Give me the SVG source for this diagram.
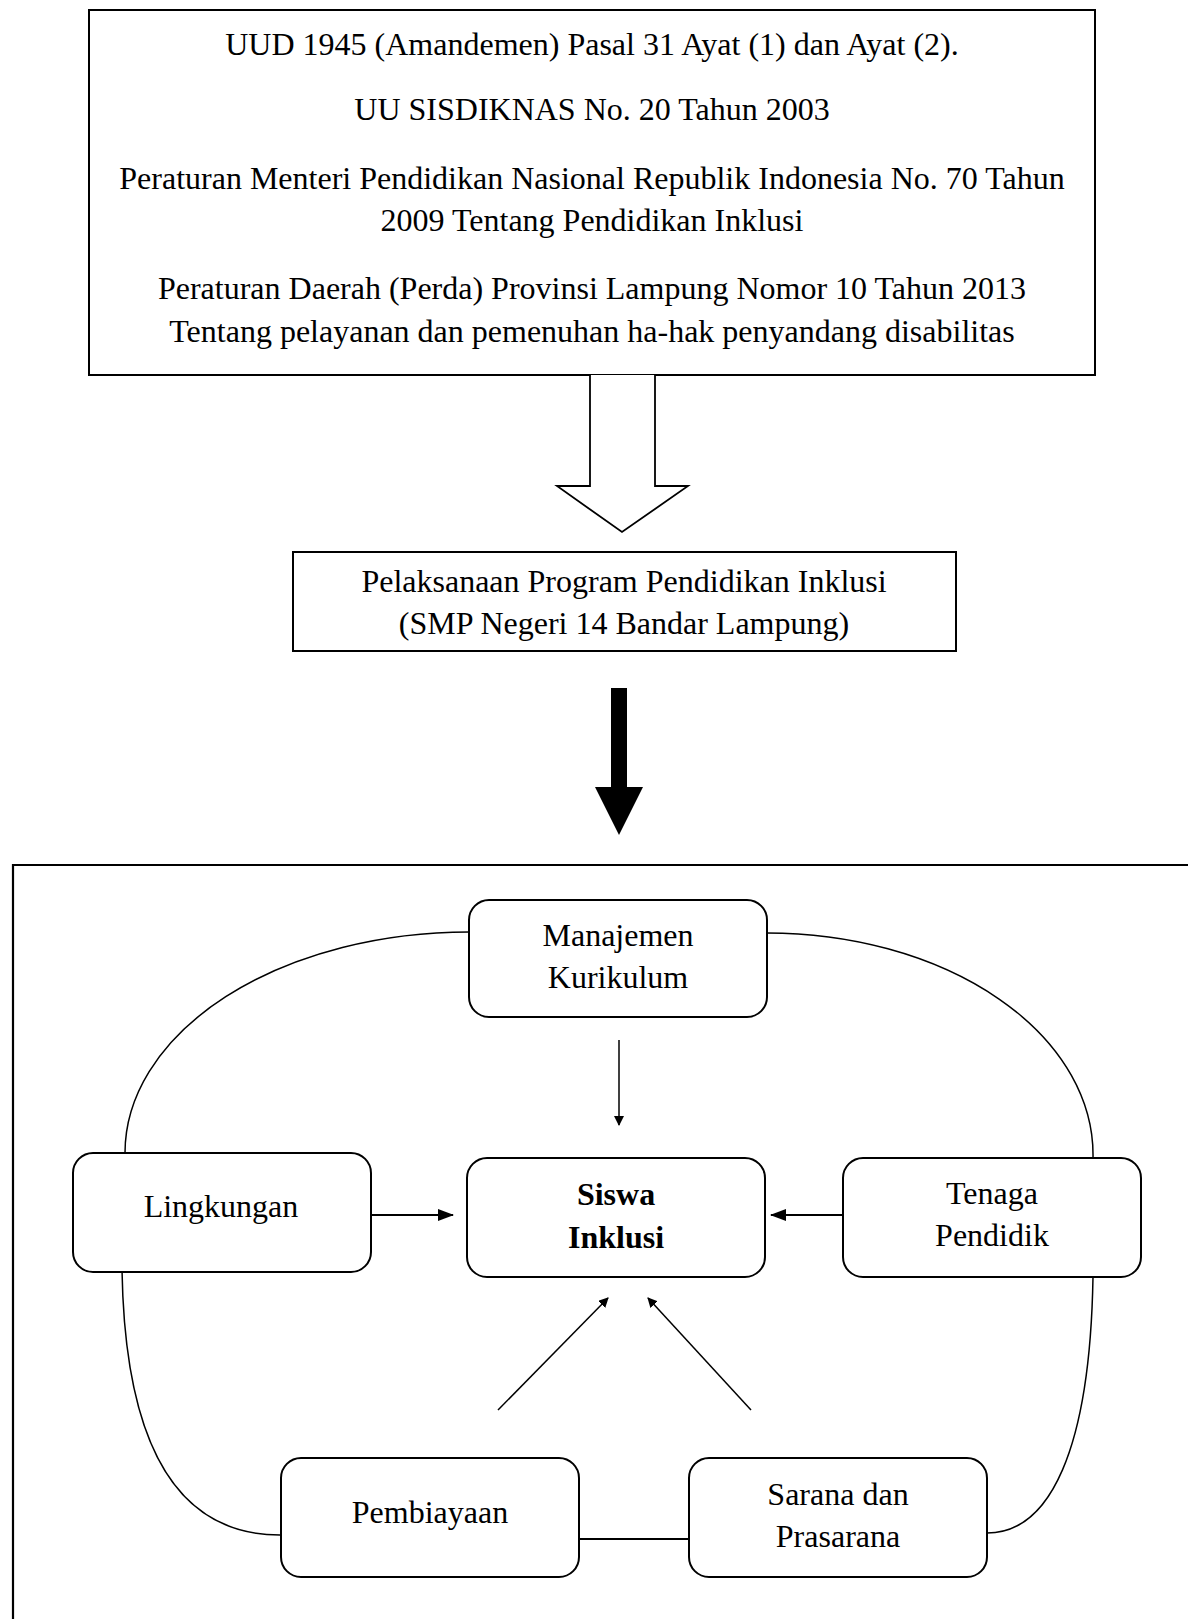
<svg xmlns="http://www.w3.org/2000/svg" width="1188" height="1619" viewBox="0 0 1188 1619">
<style>
text{font-family:"Liberation Serif","Times New Roman",serif;font-size:32px;fill:#000;text-anchor:middle}
.b{font-weight:bold}
.box{fill:#fff;stroke:#000;stroke-width:2}
.rb{fill:#fff;stroke:#000;stroke-width:2}
.ln{fill:none;stroke:#000;stroke-width:1.5}
.ar{fill:none;stroke:#000;stroke-width:1.5}
</style>
<defs>
<marker id="ah" markerWidth="10" markerHeight="10" refX="9" refY="5" orient="auto" markerUnits="userSpaceOnUse" viewBox="0 0 10 10">
<path d="M0,0 L10,5 L0,10 Z" fill="#000"/>
</marker>
<marker id="ah2" markerWidth="16" markerHeight="12" refX="15" refY="6" orient="auto" markerUnits="userSpaceOnUse" viewBox="0 0 16 12">
<path d="M0,0 L16,6 L0,12 Z" fill="#000"/>
</marker>
</defs>
<rect width="1188" height="1619" fill="#fff"/>

<g id="dasar-hukum">
<rect class="box" x="89" y="10" width="1006" height="365"/>
<text x="592" y="55">UUD 1945 (Amandemen) Pasal 31 Ayat (1) dan Ayat (2).</text>
<text x="592" y="120">UU SISDIKNAS No. 20 Tahun 2003</text>
<text x="592" y="189">Peraturan Menteri Pendidikan Nasional Republik Indonesia No. 70 Tahun</text>
<text x="592" y="231">2009 Tentang Pendidikan Inklusi</text>
<text x="592" y="299">Peraturan Daerah (Perda) Provinsi Lampung Nomor 10 Tahun 2013</text>
<text x="592" y="342">Tentang pelayanan dan pemenuhan ha-hak penyandang disabilitas</text>
</g>

<g id="pelaksanaan">
<rect class="box" x="293" y="552" width="663" height="99"/>
<text x="624" y="592">Pelaksanaan Program Pendidikan Inklusi</text>
<text x="624" y="634">(SMP Negeri 14 Bandar Lampung)</text>
</g>

<g id="kerangka">
<path d="M13,1619 L13,865 L1188,865" fill="none" stroke="#000" stroke-width="2.2"/>
</g>

<g id="connectors">
<path d="M590,375 L590,486 L557,486 L622,532 L688,486 L655,486 L655,375" fill="#fff" stroke="#000" stroke-width="1.8"/>
<rect x="611" y="688" width="16" height="100" fill="#000"/>
<path d="M595,787 L643,787 L619,835 Z" fill="#000"/>
<path class="ln" d="M469,932 A344,221 0 0 0 125,1153"/>
<path class="ln" d="M767,933 A326,222 0 0 1 1093,1158"/>
<path class="ln" d="M122,1270 C125,1450 180,1535 280,1535"/>
<path class="ln" d="M1093,1277 C1090,1450 1050,1533 987,1533"/>
<line x1="579" y1="1539" x2="689" y2="1539" stroke="#000" stroke-width="2"/>
<line class="ar" x1="619" y1="1040" x2="619" y2="1125" marker-end="url(#ah)"/>
<line x1="371" y1="1215" x2="453" y2="1215" stroke="#000" stroke-width="2.2" marker-end="url(#ah2)"/>
<line x1="843" y1="1215" x2="771" y2="1215" stroke="#000" stroke-width="2.2" marker-end="url(#ah2)"/>
<line class="ar" x1="498" y1="1410" x2="608" y2="1298" marker-end="url(#ah)"/>
<line class="ar" x1="751" y1="1410" x2="648" y2="1298" marker-end="url(#ah)"/>
</g>

<g id="manajemen">
<rect class="rb" x="469" y="900" width="298" height="117" rx="20"/>
<text x="618" y="946">Manajemen</text>
<text x="618" y="988">Kurikulum</text>
</g>
<g id="siswa">
<rect class="rb" x="467" y="1158" width="298" height="119" rx="20"/>
<text class="b" x="616" y="1205">Siswa</text>
<text class="b" x="616" y="1248">Inklusi</text>
</g>
<g id="lingkungan">
<rect class="rb" x="73" y="1153" width="298" height="119" rx="20"/>
<text x="221" y="1217">Lingkungan</text>
</g>
<g id="tenaga">
<rect class="rb" x="843" y="1158" width="298" height="119" rx="20"/>
<text x="992" y="1204">Tenaga</text>
<text x="992" y="1246">Pendidik</text>
</g>
<g id="pembiayaan">
<rect class="rb" x="281" y="1458" width="298" height="119" rx="20"/>
<text x="430" y="1523">Pembiayaan</text>
</g>
<g id="sarana">
<rect class="rb" x="689" y="1458" width="298" height="119" rx="20"/>
<text x="838" y="1505">Sarana dan</text>
<text x="838" y="1547">Prasarana</text>
</g>
</svg>
